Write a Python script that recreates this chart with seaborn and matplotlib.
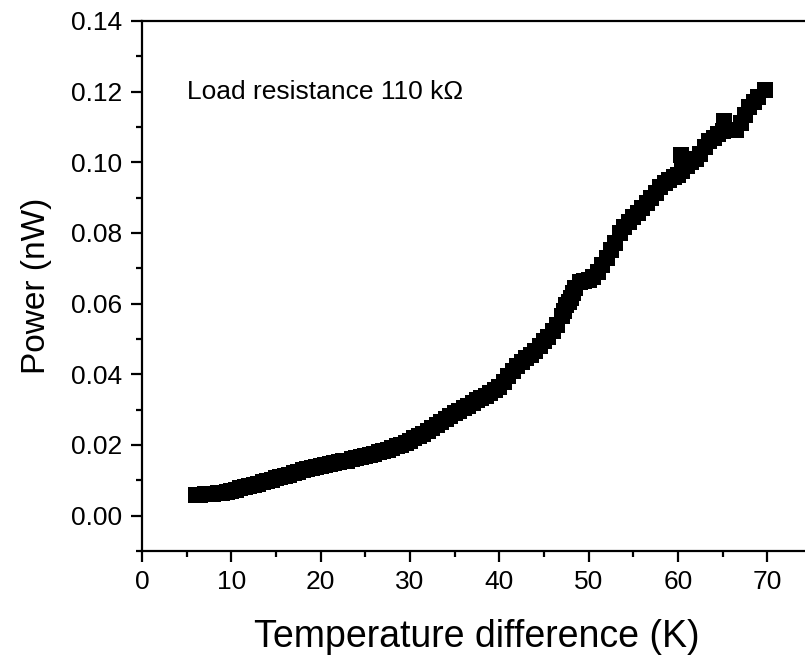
import matplotlib
matplotlib.use("Agg")
import matplotlib.pyplot as plt
import seaborn as sns
import pandas as pd
from matplotlib.ticker import MultipleLocator, FormatStrFormatter

# Data (dense band of square markers)
temp_diff = [6.0, 6.5, 7.0, 7.5, 8.0, 8.5, 9.0, 9.5, 10.0, 10.5, 11.0,
             11.5, 12.0, 12.5, 13.0, 13.5, 14.0, 14.5, 15.0, 15.5, 16.0, 16.5,
             17.0, 17.5, 18.0, 18.5, 19.0, 19.5, 20.0, 20.5, 21.0, 21.5, 22.0,
             22.5, 23.0, 23.5, 24.0, 24.5, 25.0, 25.5, 26.0, 26.5, 27.0, 27.5,
             28.0, 28.5, 29.0, 29.5, 30.0, 30.5, 31.0, 31.5, 32.0, 32.5, 33.0,
             33.5, 34.0, 34.5, 35.0, 35.5, 36.0, 36.5, 37.0, 37.5, 38.0, 38.5,
             39.0, 39.5, 40.0, 40.5, 41.0, 41.5, 42.0, 42.5, 43.0, 43.5, 44.0,
             44.5, 45.0, 45.5, 46.0, 46.5, 47.0, 47.25, 47.5, 47.75, 48.0, 48.25,
             48.5, 49.0, 49.5, 50.0, 50.5, 51.0, 51.5, 52.0, 52.5, 53.0, 53.5,
             54.0, 54.5, 55.0, 55.5, 56.0, 56.5, 57.0, 57.5, 58.0, 58.5, 59.0,
             59.5, 60.0, 60.3, 60.5, 61.0, 61.5, 62.0, 62.5, 63.0, 63.5, 64.0,
             64.5, 65.0, 65.2, 65.5, 66.0, 66.5, 67.0, 67.5, 68.0, 68.5, 69.0,
             69.7]
power_nw = [0.0058, 0.0059, 0.0060, 0.0061, 0.0062, 0.0064, 0.0065,
            0.0067, 0.0069, 0.0073, 0.0078, 0.0081, 0.0085, 0.0088, 0.0091,
            0.0095, 0.0098, 0.0102, 0.0106, 0.0109, 0.0112, 0.0116, 0.0120,
            0.0124, 0.0128, 0.0132, 0.0135, 0.0138, 0.0140, 0.0143, 0.0146,
            0.0149, 0.0151, 0.0154, 0.0156, 0.0159, 0.0162, 0.0165, 0.0168,
            0.0172, 0.0175, 0.0179, 0.0183, 0.0187, 0.0192, 0.0196, 0.0201,
            0.0206, 0.0212, 0.0219, 0.0225, 0.0232, 0.0240, 0.0248, 0.0256,
            0.0265, 0.0274, 0.0282, 0.0290, 0.0297, 0.0304, 0.0311, 0.0320,
            0.0328, 0.0333, 0.0340, 0.0348, 0.0356, 0.0365, 0.0378, 0.0395,
            0.0410, 0.0425, 0.0435, 0.0446, 0.0456, 0.0467, 0.0480, 0.0493,
            0.0505, 0.0522, 0.0540, 0.0565, 0.0580, 0.0595, 0.0605, 0.0615,
            0.0630, 0.0645, 0.0660, 0.0663, 0.0666, 0.0675, 0.0690, 0.0710,
            0.0728, 0.0752, 0.0773, 0.0800, 0.0818, 0.0830, 0.0845, 0.0858,
            0.0870, 0.0885, 0.0898, 0.0912, 0.0930, 0.0942, 0.0950, 0.0958,
            0.0965, 0.1020, 0.0975, 0.0990, 0.1000, 0.1010, 0.1025, 0.1042,
            0.1060, 0.1070, 0.1080, 0.1090, 0.1116, 0.1092, 0.1092, 0.1092,
            0.1110, 0.1135, 0.1158, 0.1172, 0.1185, 0.1205]

x_ticks = [0, 10, 20, 30, 40, 50, 60, 70]
y_ticks = [0.00, 0.02, 0.04, 0.06, 0.08, 0.10, 0.12, 0.14]

df = pd.DataFrame({"T": temp_diff, "P": power_nw})

sns.set_theme(style="ticks")
plt.rcParams["font.family"] = ["Liberation Sans", "DejaVu Sans"]

fig = plt.figure(figsize=(8.05, 6.64), dpi=100)
ax = fig.add_axes([142 / 805, 1 - 551 / 664, (812 - 142) / 805, (551 - 21) / 664])

sns.scatterplot(data=df, x="T", y="P", marker="s", s=125, color="black",
                linewidth=0, ax=ax, legend=False, zorder=3)

ax.set_xlim(0, 75)
ax.set_ylim(-0.01, 0.14)
ax.set_xticks(x_ticks)
ax.set_yticks(y_ticks)
ax.xaxis.set_minor_locator(MultipleLocator(5))
ax.yaxis.set_minor_locator(MultipleLocator(0.01))
ax.yaxis.set_major_formatter(FormatStrFormatter("%.2f"))

for side in ["left", "bottom", "top", "right"]:
    ax.spines[side].set_linewidth(1.6)
    ax.spines[side].set_color("black")

ax.tick_params(axis="both", which="major", direction="out", length=8, width=1.6,
               labelsize=19, pad=6, colors="black")
ax.tick_params(axis="both", which="minor", direction="out", length=4.5, width=1.6,
               colors="black")
ax.tick_params(top=False, right=False, which="both")

ax.set_xlabel("Temperature difference (K)", fontsize=27, labelpad=18, color="black")
ax.set_ylabel("Power (nW)", fontsize=24, labelpad=14, color="black")

ax.text(5.0, 0.12, "Load resistance 110 k\u03a9", fontsize=19, va="center",
        ha="left", color="black")

fig.savefig("out.png", dpi=100)
